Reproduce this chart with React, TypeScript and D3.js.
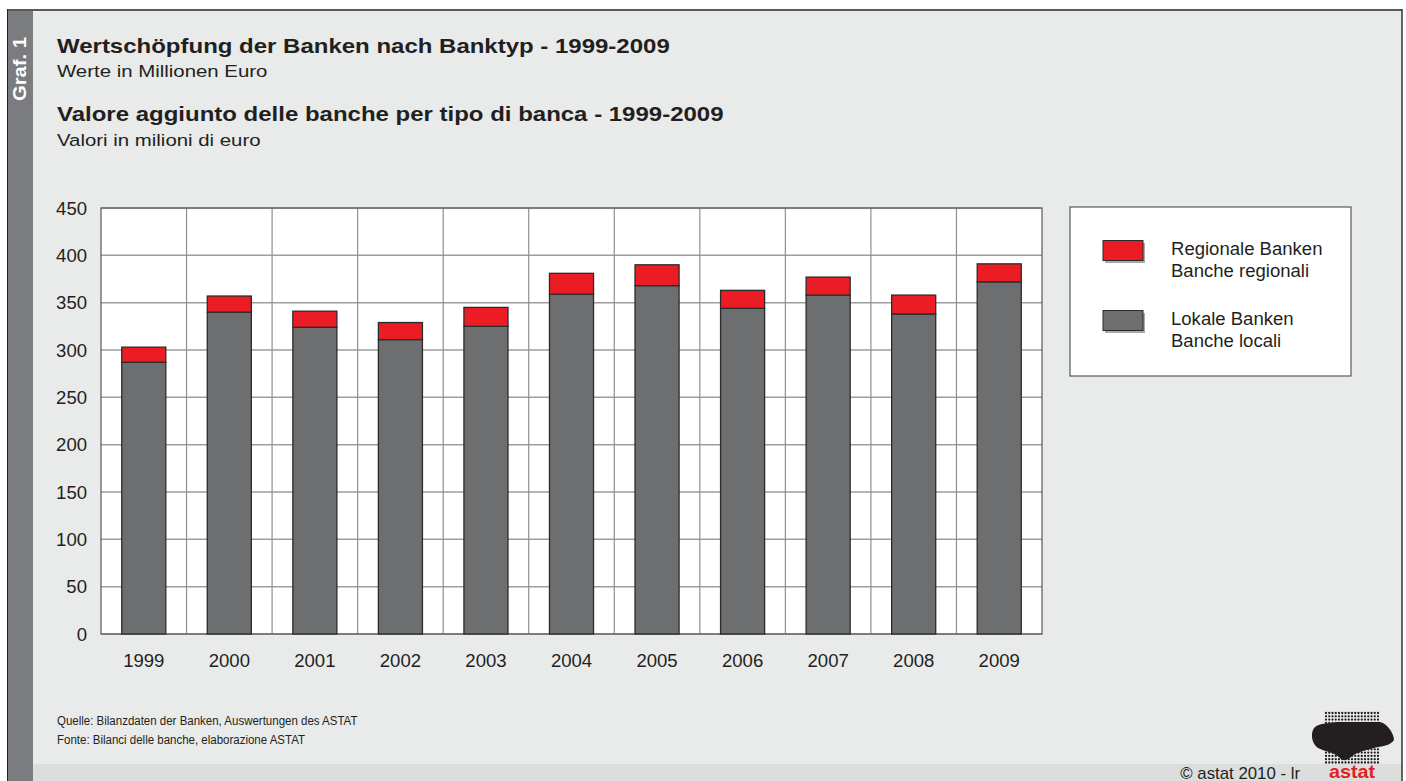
import React from "react";
import * as d3 from "d3";

const years = ["1999", "2000", "2001", "2002", "2003", "2004", "2005", "2006", "2007", "2008", "2009"];
const lokaleBanken = [287, 340, 324, 311, 325, 359, 368, 344, 358, 338, 372];
const regionaleBanken = [16, 17, 17, 18, 20, 22, 22, 19, 19, 20, 19];
const yTicks = [0, 50, 100, 150, 200, 250, 300, 350, 400, 450];

const seriesNames = ["lokal", "regional"];
const seriesColors: Record<string, string> = { lokal: "#6d6e70", regional: "#ec1c24" };

const W = 1406;
const H = 781;
const plot = { left: 101, right: 1042, top: 208, bottom: 634 };
const FONT = "'Liberation Sans', Arial, sans-serif";
const INK = "#231f20";

type TProps = {
  x: number;
  y: number;
  size: number;
  sx?: number;
  bold?: boolean;
  anchor?: string;
  fill?: string;
  children: React.ReactNode;
};

function T({ x, y, size, sx = 1, bold = false, anchor = "start", fill = INK, children }: TProps) {
  return (
    <text
      transform={`translate(${x},${y}) scale(${sx},1)`}
      fontSize={size}
      fontWeight={bold ? "bold" : "normal"}
      textAnchor={anchor}
      fill={fill}
    >
      {children}
    </text>
  );
}

export default function App() {
  const x = d3.scaleBand<string>().domain(years).range([plot.left, plot.right]).paddingInner(0.485).paddingOuter(0.2425);
  const xGrid = d3.scaleBand<string>().domain(years).range([plot.left, plot.right]).padding(0);
  const y = d3.scaleLinear().domain([0, 450]).range([plot.bottom, plot.top]);

  const table = years.map((yr, i) => ({ year: yr, lokal: lokaleBanken[i], regional: regionaleBanken[i] }));
  const stacked = d3.stack<any>().keys(seriesNames)(table);

  // logo dots
  const dots: { cx: number; cy: number }[] = [];
  for (let r = 0; r < 16; r++) {
    for (let c = 0; c < 17; c++) {
      dots.push({ cx: 1326 + c * 3.25, cy: 713 + r * 3.3 });
    }
  }

  return (
    <svg width={W} height={H} style={{ position: "absolute", left: 0, top: 0 }} fontFamily={FONT}>
      <rect x={0} y={0} width={W} height={H} fill="#ffffff" />
      {/* frame */}
      <rect x={7} y={9} width={1395} height={772} fill="#e9eaea" />
      <rect x={33} y={764} width={1369} height={17} fill="#dcdddd" />
      <rect x={8} y={10} width={25} height={771} fill="#7b7c7f" />
      <line x1={7} y1={10} x2={1402} y2={10} stroke="#58595b" strokeWidth={2} />
      <line x1={7.5} y1={9} x2={7.5} y2={781} stroke="#222" strokeWidth={1} />
      <line x1={1402} y1={9} x2={1402} y2={781} stroke="#333" strokeWidth={1.5} />
      <text transform="translate(26,101) rotate(-90) scale(1.12,1)" fill="#ffffff" fontWeight="bold" fontSize={18}>Graf. 1</text>

      {/* titles */}
      <T x={57} y={53} size={20} sx={1.2} bold>Wertschöpfung der Banken nach Banktyp - 1999-2009</T>
      <T x={57} y={77} size={17} sx={1.2}>Werte in Millionen Euro</T>
      <T x={57} y={121} size={20} sx={1.2} bold>Valore aggiunto delle banche per tipo di banca - 1999-2009</T>
      <T x={57} y={146} size={17} sx={1.2}>Valori in milioni di euro</T>

      {/* plot area */}
      <rect x={plot.left} y={plot.top} width={plot.right - plot.left} height={plot.bottom - plot.top} fill="#ffffff" />
      {yTicks.map((t) => (
        <line key={"h" + t} x1={plot.left} x2={plot.right} y1={y(t)} y2={y(t)} stroke="#9d9d9f" strokeWidth={1.5} />
      ))}
      {years.slice(1).map((yr) => (
        <line key={"v" + yr} x1={xGrid(yr)!} x2={xGrid(yr)!} y1={plot.top} y2={plot.bottom} stroke="#8f8f91" strokeWidth={1.2} />
      ))}
      <rect x={plot.left} y={plot.top} width={plot.right - plot.left} height={plot.bottom - plot.top} fill="none" stroke="#58595b" strokeWidth={1.2} />

      {stacked.map((s) => (
        <g key={s.key}>
          {s.map((d, i) => (
            <rect
              key={i}
              x={x(years[i])!}
              y={y(d[1])}
              width={x.bandwidth()}
              height={y(d[0]) - y(d[1])}
              fill={seriesColors[s.key]}
              stroke="#2b2b2b"
              strokeWidth={1.3}
            />
          ))}
        </g>
      ))}

      {/* axes labels */}
      {yTicks.map((t) => (
        <T key={"yl" + t} x={87} y={y(t) + 6.5} size={18} sx={1.03} anchor="end">{t}</T>
      ))}
      {years.map((yr) => (
        <T key={"xl" + yr} x={xGrid(yr)! + xGrid.bandwidth() / 2} y={667} size={18} sx={1.03} anchor="middle">{yr}</T>
      ))}

      {/* legend */}
      <rect x={1070} y={207} width={281} height={169} fill="#ffffff" stroke="#58595b" strokeWidth={1.2} />
      <rect x={1105} y={243} width={40} height={20} fill="#a7a9ac" />
      <rect x={1103} y={240.5} width={40} height={20} fill={seriesColors.regional} stroke="#2b2b2b" strokeWidth={1} />
      <T x={1171} y={254.5} size={17.5} sx={1.06}>Regionale Banken</T>
      <T x={1171} y={276.5} size={17.5} sx={1.06}>Banche regionali</T>
      <rect x={1105} y={313} width={40} height={20} fill="#a7a9ac" />
      <rect x={1103} y={310.5} width={40} height={20} fill={seriesColors.lokal} stroke="#2b2b2b" strokeWidth={1} />
      <T x={1171} y={324.5} size={17.5} sx={1.06}>Lokale Banken</T>
      <T x={1171} y={346.5} size={17.5} sx={1.06}>Banche locali</T>

      {/* source */}
      <T x={57} y={725} size={12.5} sx={0.92}>Quelle: Bilanzdaten der Banken, Auswertungen des ASTAT</T>
      <T x={57} y={744} size={12.5} sx={0.92}>Fonte: Bilanci delle banche, elaborazione ASTAT</T>

      {/* footer */}
      <T x={1300} y={779} size={16} sx={1.05} anchor="end">©  astat 2010 - lr</T>
      <g>
        {dots.map((d, i) => (
          <circle key={i} cx={d.cx} cy={d.cy} r={1.15} fill={INK} />
        ))}
        <path
          d="M1314,728 C1320,722 1330,724 1338,722 L1380,722 C1388,724 1394,734 1394,740 C1390,746 1382,746 1374,748 C1366,750 1358,752 1352,756 C1348,760 1344,762 1340,758 C1334,752 1326,752 1318,748 C1312,744 1310,734 1314,728 Z"
          fill={INK}
        />
        <T x={1352} y={778} size={18} sx={1.1} bold anchor="middle" fill="#e31e24">astat</T>
      </g>
    </svg>
  );
}
